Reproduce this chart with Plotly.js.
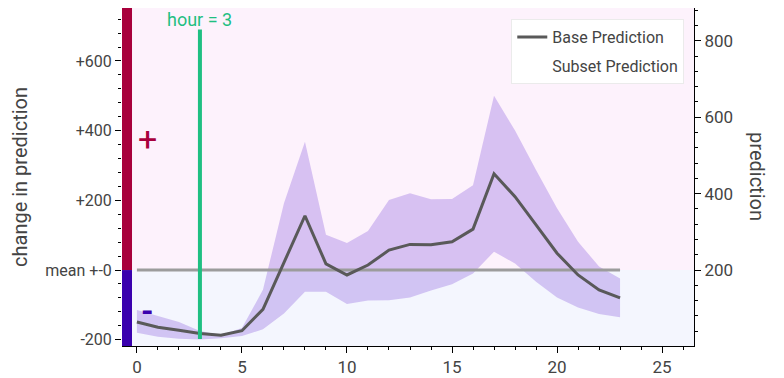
<!DOCTYPE html>
<html>
<head>
<meta charset="utf-8">
<script src="https://cdn.plot.ly/plotly-3.0.1.min.js"></script>
<style>
  body { margin: 0; background: #fff; }
  #myPlot { width: 784px; height: 378px; }
</style>
</head>
<body>
<div id="myPlot"></div>
<script>
// hours of the day
var hours = [0,1,2,3,4,5,6,7,8,9,10,11,12,13,14,15,16,17,18,19,20,21,22,23]

// base prediction (right axis, prediction)
var basePred = [64,50,42,34,29,41,97,221,342,216,187,213,252,267,266,274,307,452,392,318,244,187,148,127]

// subset prediction band
var subsetLow  = [36,25,20,18,21,27,45,86,143,143,111,120,121,128,146,163,191,248,217,169,128,102,85,76]
var subsetHigh = [95,80,64,40,30,48,148,375,536,292,271,302,383,401,385,386,422,656,565,462,362,274,209,178]

var meanPred = 200
var selectedHour = 3
var hourLineSpan = [-198, 690]

// left axis ticks (change in prediction)
var leftTickVals = [-200, 0, 200, 400, 600]
var leftTickText = ['-200', 'mean +-0', '+200', '+400', '+600']
var leftRange = [-218, 752]
var rightRange = [1, 886]

var font = 'Roboto, "Open Sans", sans-serif'
var grey = '#444'

var data = [
  {x: hours, y: subsetLow, yaxis: 'y2', mode: 'lines', line: {width: 0, color: 'rgba(0,0,0,0)'},
   showlegend: false, hoverinfo: 'skip'},
  {x: hours, y: subsetHigh, yaxis: 'y2', mode: 'lines', line: {width: 0, color: 'rgba(0,0,0,0)'},
   fill: 'tonexty', fillcolor: 'rgba(130,80,220,0.3)', showlegend: false, hoverinfo: 'skip'},
  {x: [hours[0], hours[hours.length - 1]], y: [meanPred, meanPred], yaxis: 'y2', mode: 'lines',
   line: {color: '#9c9c9c', width: 3}, showlegend: false},
  {x: hours, y: basePred, yaxis: 'y2', mode: 'lines', name: 'Base Prediction', legendgroup: 'base',
   line: {color: '#595959', width: 3}},
  {x: [null], y: [null], yaxis: 'y2', mode: 'lines', name: 'Subset Prediction', legendgroup: 'subset',
   line: {color: 'rgba(0,0,0,0)', width: 0}}
]

var layout = {
  width: 784,
  height: 378,
  margin: {l: 122, r: 90, t: 8, b: 32},
  paper_bgcolor: '#fff',
  plot_bgcolor: '#fff',
  font: {family: font, size: 17, color: grey},
  showlegend: true,
  legend: {x: 0.983, y: 0.967, xanchor: 'right', yanchor: 'top', bgcolor: '#fff',
           traceorder: 'grouped', tracegroupgap: 5,
           bordercolor: '#ebebeb', borderwidth: 1, font: {size: 16, color: grey}},
  xaxis: {range: [-0.71, 26.52], tickvals: [0,5,10,15,20,25], ticks: 'outside', ticklen: 6,
          tickcolor: '#000', showline: true, linecolor: '#000', linewidth: 1, showgrid: false,
          zeroline: false, minor: {dtick: 1, tick0: 0, ticks: 'outside', ticklen: 3, tickcolor: '#000'},
          tickfont: {size: 17, color: grey}},
  yaxis: {range: leftRange, tickvals: leftTickVals, ticktext: leftTickText, ticks: 'outside',
          ticklen: 6, tickcolor: '#000', showgrid: false, zeroline: false, showline: false,
          minor: {dtick: 40, tick0: 0, ticks: 'outside', ticklen: 3, tickcolor: '#000'},
          title: {text: 'change in prediction', font: {size: 20, color: grey}, standoff: 12},
          tickfont: {size: 16, color: grey}},
  yaxis2: {range: rightRange, overlaying: 'y', side: 'right', tickvals: [200,400,600,800],
           ticks: 'outside', ticklen: 6, tickcolor: '#000', showline: true, linecolor: '#000',
           showgrid: false, zeroline: false,
           minor: {dtick: 40, tick0: 0, ticks: 'outside', ticklen: 3, tickcolor: '#000'},
           tickfont: {size: 17, color: grey}},
  shapes: [
    // backgrounds
    {type: 'rect', xref: 'paper', yref: 'y', x0: 0.0175, x1: 1, y0: 0, y1: leftRange[1],
     fillcolor: '#fdf2fc', line: {width: 0}, layer: 'below'},
    {type: 'rect', xref: 'paper', yref: 'y', x0: 0.0175, x1: 1, y0: leftRange[0], y1: 0,
     fillcolor: '#f4f6fe', line: {width: 0}, layer: 'below'},
    // side bar
    {type: 'rect', xref: 'paper', yref: 'y', x0: 0, x1: 0.0175, y0: 0, y1: leftRange[1],
     fillcolor: '#a8003c', line: {width: 0}, layer: 'below'},
    {type: 'rect', xref: 'paper', yref: 'y', x0: 0, x1: 0.0175, y0: leftRange[0], y1: 0,
     fillcolor: '#3a00ae', line: {width: 0}, layer: 'below'},
    // selected hour
    {type: 'line', xref: 'x', yref: 'y', x0: selectedHour, x1: selectedHour,
     y0: hourLineSpan[0], y1: hourLineSpan[1], line: {color: '#1fbf82', width: 4}}
  ],
  annotations: [
    {xref: 'x', yref: 'y', x: selectedHour, y: hourLineSpan[1], yanchor: 'bottom', showarrow: false,
     text: 'hour = ' + selectedHour, font: {size: 18, color: '#1fbf82'}, yshift: -2},
    {xref: 'x', yref: 'y', x: 0.5, y: 376, showarrow: false, text: '+',
     font: {size: 34, color: '#a8003c'}},
    {xref: 'x', yref: 'y', x: 0.5, y: -118, showarrow: false, text: '<b>-</b>',
     font: {size: 32, color: '#3a00ae'}},
    {xref: 'paper', yref: 'paper', x: 1.11, y: 0.5, xanchor: 'center', yanchor: 'middle',
     showarrow: false, text: 'prediction', textangle: 90, font: {size: 20, color: grey}}
  ]
}

Plotly.newPlot('myPlot', data, layout, {displayModeBar: false})
</script>
</body>
</html>
